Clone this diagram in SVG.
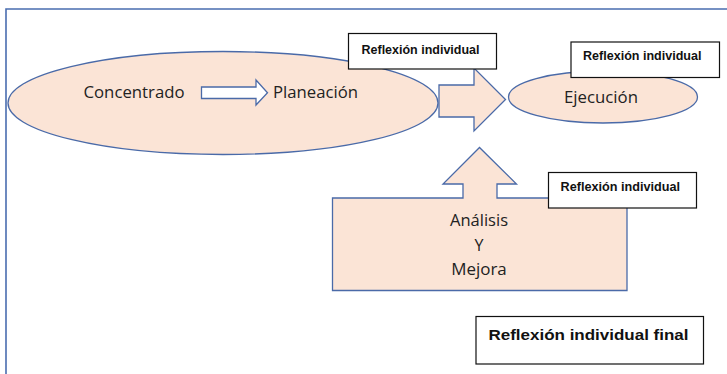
<svg xmlns="http://www.w3.org/2000/svg" width="727" height="374" viewBox="0 0 727 374">
<style>
.shape{fill:#fbe4d6;stroke:#4a6aa8;stroke-width:1.3}
.lbl{fill:#fff;stroke:#111;stroke-width:1.2}
.t{font-family:"Open Sans","Liberation Sans",sans-serif;font-size:16px;fill:#222}
.b{font-family:"Liberation Sans",Arial,sans-serif;font-weight:bold;font-size:12.5px;fill:#111}
</style>
<rect width="727" height="374" fill="#fff"/>
<path d="M6,374 V9 H727" fill="none" stroke="#4a6db0" stroke-width="1.6"/>
<g id="planeacion">
<ellipse class="shape" cx="223" cy="103" rx="215" ry="51.5"/>
<text class="t" x="83.5" y="97.5" textLength="101" lengthAdjust="spacingAndGlyphs">Concentrado</text>
<text class="t" x="273" y="97.5" textLength="85" lengthAdjust="spacingAndGlyphs">Planeación</text>
</g>
<g id="connectors">
<polygon points="201.5,87 256,87 256,80 267.5,92.7 256,105 256,98.5 201.5,98.5" fill="#fff" stroke="#4a6aa8" stroke-width="1.3"/>
<polygon class="shape" points="439,85 474,85 474,68 505.5,99.5 474,131 474,117 439,117"/>
</g>
<g id="label1">
<rect class="lbl" x="348.5" y="33.5" width="148" height="35.5"/>
<text class="b" x="361.5" y="53.5" textLength="118" lengthAdjust="spacingAndGlyphs">Reflexión individual</text>
</g>
<g id="ejecucion">
<ellipse class="shape" cx="603" cy="97" rx="94.5" ry="26"/>
<text class="t" x="564" y="103" textLength="74" lengthAdjust="spacingAndGlyphs">Ejecución</text>
</g>
<g id="label2">
<rect class="lbl" x="571" y="42" width="148.5" height="35.5"/>
<text class="b" x="583" y="59.5" textLength="118.5" lengthAdjust="spacingAndGlyphs">Reflexión individual</text>
</g>
<g id="analisis">
<polygon class="shape" points="332.5,198 463,198 463,184 443,184 479.5,147.5 516.5,184 497,184 497,198 627,198 627,290.5 332.5,290.5"/>
<text class="t" x="479" y="226" text-anchor="middle" textLength="58" lengthAdjust="spacingAndGlyphs">Análisis</text>
<text class="t" x="479" y="250.5" text-anchor="middle">Y</text>
<text class="t" x="479" y="275" text-anchor="middle" textLength="55.5" lengthAdjust="spacingAndGlyphs">Mejora</text>
</g>
<g id="label3">
<rect class="lbl" x="548.5" y="172.5" width="148" height="35.5"/>
<text class="b" x="560.5" y="191" textLength="119.5" lengthAdjust="spacingAndGlyphs">Reflexión individual</text>
</g>
<g id="final">
<rect class="lbl" x="476" y="316.5" width="227.5" height="47.5"/>
<text class="b" x="488.5" y="339.5" style="font-size:15px" textLength="200" lengthAdjust="spacingAndGlyphs">Reflexión individual final</text>
</g>
</svg>
